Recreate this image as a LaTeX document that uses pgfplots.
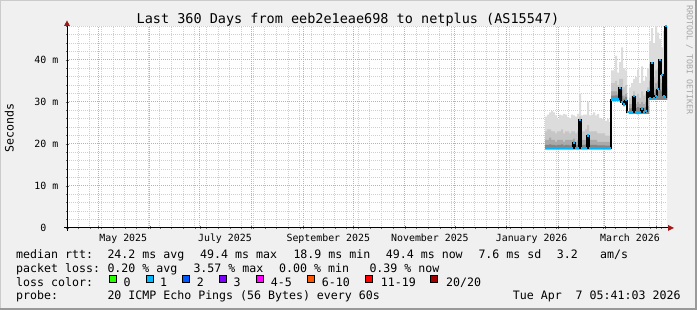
\documentclass[border=0pt]{standalone}
\usepackage{fontspec}
\setmainfont{DejaVu Sans Mono}
\setmonofont{DejaVu Sans Mono}
\usepackage{xcolor}
\usepackage{pgfplots}
\usepackage{pgfplotstable}
\usepgfplotslibrary{fillbetween}
\pgfplotsset{compat=1.18}

\definecolor{bg}{HTML}{F0F0F0}
\definecolor{shadea}{HTML}{CBCBCB}
\definecolor{shadeb}{HTML}{999999}
\definecolor{mgrid}{HTML}{F29A9A}
\definecolor{mingrid}{HTML}{CFCFCF}
\definecolor{arrowc}{HTML}{9E1A1A}
\definecolor{l0}{HTML}{26FF00}
\definecolor{l1}{HTML}{00B8FF}
\definecolor{l2}{HTML}{0059FF}
\definecolor{l3}{HTML}{7E00FF}
\definecolor{l4}{HTML}{FF00FF}
\definecolor{l6}{HTML}{FF5500}
\definecolor{l11}{HTML}{FF0000}
\definecolor{l20}{HTML}{A10000}
\definecolor{s0}{HTML}{858585}
\definecolor{s1}{HTML}{AAAAAA}
\definecolor{s2}{HTML}{C6C6C6}
\definecolor{s3}{HTML}{DCDCDC}

\pgfplotstableread{
x     lo   med  b0   b1   b2   top
286.8 18.7 19.0 19.8 21.0 23.0 26.5
288.0 18.7 19.0 19.8 21.0 23.5 27.0
289.2 18.7 19.0 19.9 21.5 23.5 27.5
290.4 18.7 19.0 19.8 21.0 23.0 27.8
291.6 18.7 19.0 19.8 21.0 23.0 27.5
292.8 18.7 19.0 19.7 20.5 22.5 26.8
294.0 18.7 19.0 19.8 21.0 23.0 26.0
295.2 18.7 19.0 19.8 21.0 23.0 27.0
296.4 18.7 19.0 19.9 21.0 23.5 26.8
297.6 18.7 19.0 19.7 20.5 22.5 27.2
298.8 18.7 19.0 19.8 21.0 23.0 27.0
300.0 18.7 19.0 19.8 21.0 23.0 26.4
301.2 18.7 19.0 19.7 21.0 22.5 26.2
302.4 18.7 19.0 19.8 21.0 23.0 27.0
303.6 18.7 20.3 20.6 21.3 23.0 26.8
304.8 18.7 19.0 19.7 20.5 22.5 26.5
306.0 18.7 19.0 19.8 21.0 23.0 27.2
307.2 18.7 25.8 22.0 24.0 26.5 32.0
308.4 18.7 19.0 19.8 21.0 23.0 26.8
309.6 18.7 19.0 19.8 21.0 23.0 27.0
310.8 18.7 19.0 19.9 21.0 23.5 27.0
312.0 18.7 22.0 20.5 22.0 24.5 30.0
313.2 18.7 19.0 19.8 21.0 23.0 26.8
314.4 18.7 19.0 19.8 21.0 23.0 27.0
315.6 18.7 19.0 19.8 21.0 23.0 27.5
316.8 18.7 19.0 19.8 21.0 23.0 26.8
318.0 18.7 19.0 19.7 20.5 22.5 27.2
319.2 18.7 19.0 19.7 20.5 22.5 26.2
320.4 18.7 19.0 19.7 20.5 22.5 26.0
321.6 18.7 19.0 19.7 20.5 22.5 25.8
322.8 18.7 19.0 19.6 20.5 22.0 25.5
324.0 18.7 19.0 19.6 20.5 22.0 26.0
325.2 18.7 19.0 19.6 20.5 22.0 25.2
326.4 30.2 30.6 31.5 32.5 34.5 37.5
327.6 30.2 30.6 31.5 32.5 34.5 37.5
328.8 30.2 30.6 31.6 32.5 35.0 41.0
330.0 30.2 30.6 31.5 32.0 34.0 37.0
331.2 30.2 33.4 31.8 33.0 35.5 39.5
332.4 29.8 30.0 31.5 33.0 35.5 43.0
333.6 29.0 29.4 30.8 31.5 33.5 38.0
334.8 30.0 30.4 31.2 32.0 34.0 37.5
336.0 27.6 27.6 27.6 27.6 27.6 27.6
337.2 27.2 27.6 28.5 29.5 31.0 33.5
338.4 27.2 27.6 28.6 29.5 31.5 34.5
339.6 27.2 31.4 28.8 30.5 32.5 35.5
340.8 27.2 27.6 28.6 29.5 31.5 36.0
342.0 27.1 27.4 28.8 30.0 32.0 37.7
343.2 27.2 27.6 28.6 29.5 31.0 34.5
344.4 27.2 28.4 28.8 30.0 32.5 38.5
345.6 27.2 27.6 28.6 29.5 31.5 35.0
346.8 27.2 27.8 28.8 30.0 32.0 36.0
348.0 27.2 32.6 29.0 31.0 33.5 38.0
349.2 30.5 31.0 32.5 35.0 39.0 44.5
350.4 30.5 39.3 32.5 35.0 39.0 47.6
351.6 30.5 31.0 32.2 33.5 36.0 44.0
352.8 30.5 31.5 32.8 34.5 37.5 48.0
354.0 30.5 33.0 32.5 35.0 38.0 46.5
355.2 30.5 40.0 33.0 35.5 39.0 45.0
356.4 30.5 36.5 32.5 34.5 37.0 43.0
357.6 30.5 31.5 32.5 34.5 37.5 47.0
358.8 30.5 48.0 33.5 36.0 40.0 48.0
360.0 30.5 31.0 32.5 34.5 37.5 44.0
}\smoke

\newcommand\legfont{\fontsize{11.6}{14}\selectfont}
\newcommand\legtxt[3]{\node[anchor=base west, inner sep=0pt, font=\legfont] at (#1pt,#2pt) {#3};}
\newcommand\lbox[2]{\node[draw=black, fill=#2, line width=0.8pt, minimum size=7pt, inner sep=0pt, anchor=south west] at (#1pt,27pt) {};}

\begin{document}
\pagecolor{bg}%
\begin{tikzpicture}
\path (0,0) rectangle (697pt,310pt);
\fill[shadea] (0,0) rectangle (1pt,310pt);
\fill[shadea] (0,309pt) rectangle (697pt,310pt);
\fill[shadeb] (0,0) rectangle (697pt,2pt);
\fill[shadeb] (695pt,0) rectangle (697pt,310pt);

\begin{axis}[
  at={(67pt,82pt)}, anchor=south west,
  width=600pt, height=201.6pt, scale only axis,
  xmin=0, xmax=360, ymin=0, ymax=48,
  axis background/.style={fill=white},
  axis line style={draw=none},
  xtick={18.76,49.76,79.76,110.76,141.76,171.76,202.76,232.76,263.76,294.76,322.76,353.76},
  xticklabels={},
  minor xtick={6.76,13.76,...,356.76},
  ytick={0,10,20,30,40},
  yticklabels={0\hphantom{mm},10 m,20 m,30 m,40 m},
  minor ytick={2,4,...,48},
  grid=both,
  major grid style={mgrid, dash pattern=on 1pt off 1pt, line width=1pt},
  minor grid style={mingrid, dash pattern=on 1pt off 1pt, line width=1pt},
  tick pos=left, tick align=center,
  major tick length=3pt, minor tick length=2pt,
  tick style={black!60, line width=0.8pt},
  tick label style={font=\fontsize{9.9}{11}\selectfont},
  yticklabel style={anchor=east, inner sep=0pt, xshift=-7pt},
  extra x ticks={33.76,94.76,156.76,217.76,278.76,337.76},
  extra x tick labels={May 2025,July 2025,September 2025,November 2025,January 2026,March 2026},
  extra x tick style={grid=none, major tick length=0pt, xticklabel style={anchor=north, inner sep=0pt, yshift=-6pt}},
  /pgf/number format/assume math mode=true,
]
\addplot[draw=none, const plot mark left, name path=lo] table[x=x,y=lo]{\smoke};
\addplot[draw=none, const plot mark left, name path=top] table[x=x,y=top]{\smoke};
\addplot[draw=none, const plot mark left, name path=b2] table[x=x,y=b2]{\smoke};
\addplot[draw=none, const plot mark left, name path=b1] table[x=x,y=b1]{\smoke};
\addplot[draw=none, const plot mark left, name path=b0] table[x=x,y=b0]{\smoke};
\addplot[s3] fill between[of=lo and top];
\addplot[s2] fill between[of=lo and b2];
\addplot[s1] fill between[of=lo and b1];
\addplot[s0] fill between[of=lo and b0];
\addplot[black, line width=1.1pt, const plot mark left] table[x=x,y=med]{\smoke};
\addplot[only marks, mark=-, mark size=1pt, l1, restrict x to domain=0:359.5,
  mark options={line width=2.2pt, xshift=1pt}] table[x=x,y=med]{\smoke};
\end{axis}

% axis lines with arrows
\draw[black, line width=1pt] (67pt,79pt) -- (67pt,285pt);
\fill[arrowc] (64pt,284pt) -- (70pt,284pt) -- (67pt,289.5pt) -- cycle;
\draw[black, line width=1pt] (64pt,82pt) -- (669pt,82pt);
\fill[arrowc] (668pt,85pt) -- (668pt,79pt) -- (674pt,82pt) -- cycle;

% title and labels
\node[anchor=base, inner sep=0pt, font=\fontsize{13.5}{16}\selectfont] at (348pt,286.5pt) {Last 360 Days from eeb2e1eae698 to netplus (AS15547)};
\node[rotate=90, anchor=base, inner sep=0pt, font=\legfont] at (13.5pt,182pt) {Seconds};
\node[rotate=-90, inner sep=0pt, font=\fontsize{8.3}{10}\selectfont, text=black!35] at (689.5pt,250pt) {RRDTOOL / TOBI OETIKER};

% legend
\legtxt{16}{51.5}{median rtt:}
\legtxt{107.3}{51.5}{24.2 ms avg}
\legtxt{200}{51.5}{49.4 ms max}
\legtxt{293.3}{51.5}{18.9 ms min}
\legtxt{385.7}{51.5}{49.4 ms now}
\legtxt{478.3}{51.5}{7.6 ms sd}
\legtxt{556.7}{51.5}{3.2}
\legtxt{600}{51.5}{am/s}

\legtxt{16}{37.5}{packet loss:}
\legtxt{107.3}{37.5}{0.20 \% avg}
\legtxt{193.3}{37.5}{3.57 \% max}
\legtxt{279}{37.5}{0.00 \% min}
\legtxt{369.3}{37.5}{0.39 \% now}

\legtxt{16}{23.7}{loss color:}
\lbox{108.5}{l0}\legtxt{123.3}{23.7}{0}
\lbox{145.5}{l1}\legtxt{160}{23.7}{1}
\lbox{182.3}{l2}\legtxt{196.7}{23.7}{2}
\lbox{219}{l3}\legtxt{233.3}{23.7}{3}
\lbox{256}{l4}\legtxt{270.7}{23.7}{4-5}
\lbox{307.3}{l6}\legtxt{321.7}{23.7}{6-10}
\lbox{365}{l11}\legtxt{380.7}{23.7}{11-19}
\lbox{430.3}{l20}\legtxt{446}{23.7}{20/20}

\legtxt{16}{10.2}{probe:}
\legtxt{107.3}{10.2}{20 ICMP Echo Pings (56 Bytes) every 60s}
\node[anchor=base east, inner sep=0pt, font=\legfont] at (680.7pt,10.2pt) {Tue Apr\ \ 7 05:41:03 2026};

\pgfresetboundingbox
\path[use as bounding box] (0,0) rectangle (697pt,310pt);
\end{tikzpicture}
\end{document}
